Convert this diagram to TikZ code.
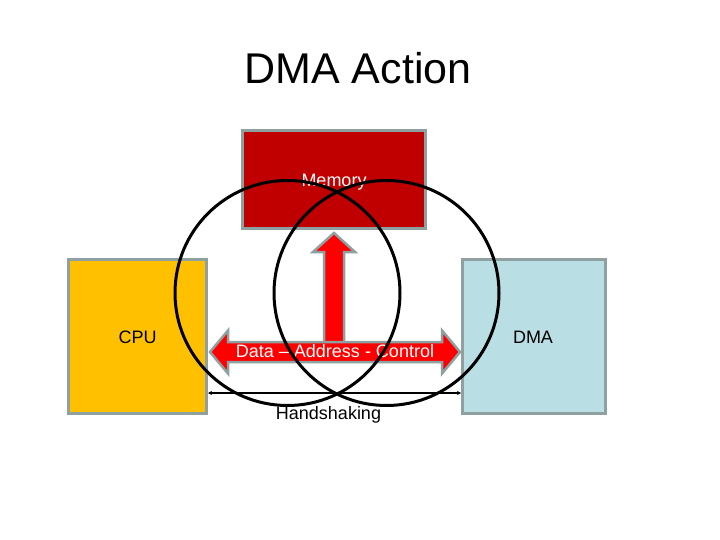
\documentclass[tikz,border=0pt]{standalone}
\usepackage{fontspec}
\setmainfont{Liberation Sans}
\usetikzlibrary{arrows.meta}
\definecolor{memred}{RGB}{192,0,0}
\definecolor{cpuyel}{RGB}{255,192,0}
\definecolor{dmablue}{RGB}{185,222,228}
\definecolor{bordergray}{RGB}{143,160,160}
\definecolor{arrowred}{RGB}{255,0,0}
\begin{document}
\begin{tikzpicture}[x=1pt,y=-1pt,
  box/.style={draw=bordergray, line width=3pt, rectangle, inner sep=0pt},
  lbl/.style={font=\fontsize{18}{20}\selectfont, anchor=base},
  bigarrow/.style={draw=bordergray, line width=2.5pt, fill=arrowred, line join=miter},
  ring/.style={draw=black, line width=3pt}]
\useasboundingbox (0,0) rectangle (720,540);
\fill[white] (0,0) rectangle (720,540);
% title
\node[font=\fontsize{43}{48}\selectfont, anchor=base] (title) at (358,83.3) {DMA Action};
% boxes
\node[box, fill=memred, minimum width=183pt, minimum height=98pt] (mem) at (334,179.5) {};
\node[box, fill=cpuyel, minimum width=138pt, minimum height=154pt] (cpu) at (137.5,336.5) {};
\node[box, fill=dmablue, minimum width=143pt, minimum height=154pt] (dma) at (534,336.5) {};
\node[lbl, text=white] (memt) at (334,187) {Memory};
\node[lbl] (cput) at (137.7,343) {CPU};
\node[lbl] (dmat) at (533,343) {DMA};
% vertical arrow
\draw[bigarrow] (334,233) -- (355,252) -- (344,252) -- (344,343) -- (324,343) -- (324,252) -- (313,252) -- cycle;
% horizontal double arrow
\draw[bigarrow] (210,352) -- (228,330.5) -- (228,342) -- (442,342) -- (442,330.5) -- (460,352)
  -- (442,373.5) -- (442,362) -- (228,362) -- (228,373.5) -- cycle;
\node[lbl, text=white] (bus) at (335,357.5) {Data -- Address - Control};
% handshaking
\coordinate (hsy) at (0,393);
\draw[line width=1.2pt, {Stealth[length=4pt,width=4pt]}-{Stealth[length=4pt,width=4pt]}] (cpu.east |- hsy) -- (dma.west |- hsy);
\node[lbl] (hs) at (328.5,419) {Handshaking};
% circles
\draw[ring] (287.5,293) circle (112.5);
\draw[ring] (386.5,293) circle (112.5);
\end{tikzpicture}
\end{document}
